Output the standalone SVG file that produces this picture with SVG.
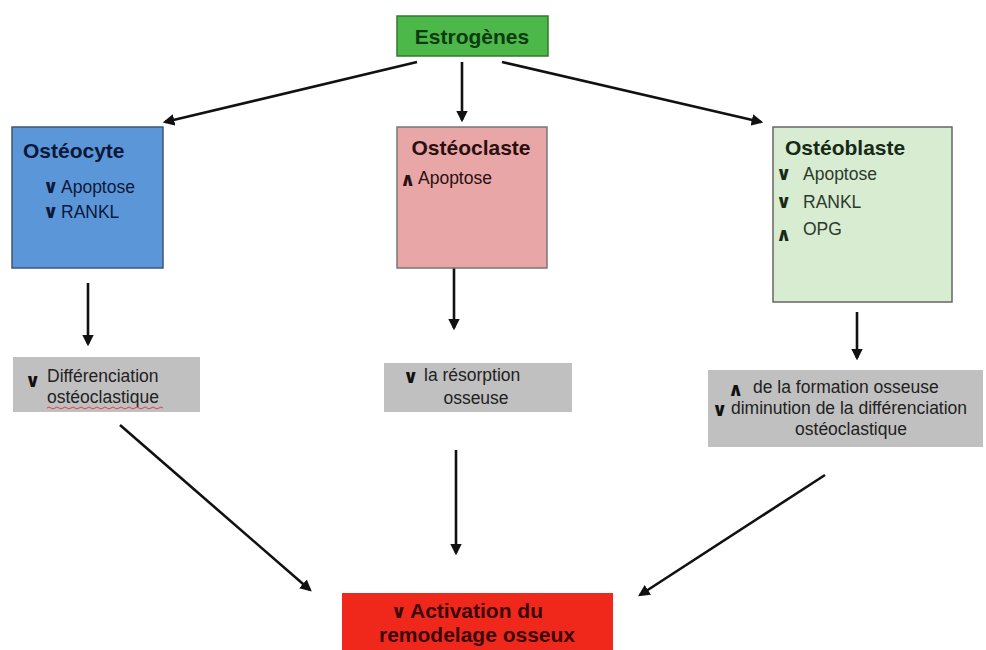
<svg xmlns="http://www.w3.org/2000/svg" width="986" height="650" viewBox="0 0 986 650">
<style>
text{font-family:"Liberation Sans",Arial,sans-serif}
.t{font-weight:bold;font-size:21px}
.s{font-size:17.5px}
.c{font-family:"DejaVu Sans",sans-serif;font-weight:bold;font-size:19px}
.e{stroke:#111;stroke-width:2.6;fill:none;marker-end:url(#ah)}
</style>
<defs>
<marker id="ah" viewBox="0 0 10 10" refX="8" refY="5" markerWidth="4.5" markerHeight="4.5" orient="auto" markerUnits="strokeWidth">
<path d="M0,0 L10,5 L0,10 z" fill="#111"/>
</marker>
</defs>
<rect width="986" height="650" fill="#fff"/>
<g id="connectors">
<line class="e" x1="417" y1="62" x2="165" y2="122"/>
<line class="e" x1="462" y1="62" x2="462" y2="120"/>
<line class="e" x1="502" y1="62" x2="761" y2="122"/>
<line class="e" x1="88" y1="283" x2="88" y2="344"/>
<line class="e" x1="454" y1="268" x2="454" y2="328"/>
<line class="e" x1="857" y1="312" x2="857" y2="358"/>
<line class="e" x1="120" y1="425" x2="310" y2="590"/>
<line class="e" x1="456" y1="450" x2="456" y2="553"/>
<line class="e" x1="825" y1="475" x2="640" y2="595"/>
</g>
<g id="estrogenes">
<rect x="397" y="16" width="151" height="40" fill="#4cb84a" stroke="#2f7a2f" stroke-width="1.5"/>
<text x="472" y="44" text-anchor="middle" class="t" fill="#0e3a10">Estrogènes</text>
</g>
<g id="osteocyte">
<rect x="12" y="127" width="151" height="141" fill="#5b96d9" stroke="#3d5778" stroke-width="1.5"/>
<text x="23" y="158" class="t" fill="#0b1838">Ostéocyte</text>
<text x="43" y="193" class="c" fill="#0b1838">∨</text>
<text x="61" y="193" class="s" fill="#0b1838">Apoptose</text>
<text x="43" y="218" class="c" fill="#0b1838">∨</text>
<text x="61" y="218" class="s" fill="#0b1838">RANKL</text>
</g>
<g id="osteoclaste">
<rect x="397" y="127" width="150" height="141" fill="#e8a6a6" stroke="#777" stroke-width="1.5"/>
<text x="471" y="155" text-anchor="middle" class="t" fill="#2a1012">Ostéoclaste</text>
<text x="400" y="186" class="c" fill="#2a1012">∧</text>
<text x="418" y="184" class="s" fill="#2a1012">Apoptose</text>
</g>
<g id="osteoblaste">
<rect x="773" y="127" width="179" height="175" fill="#d8ecd2" stroke="#666" stroke-width="1.5"/>
<text x="785" y="155" class="t" fill="#162a16">Ostéoblaste</text>
<text x="776" y="180" class="c" fill="#162a16">∨</text>
<text x="803" y="180" class="s" fill="#2c3a2c">Apoptose</text>
<text x="776" y="208" class="c" fill="#162a16">∨</text>
<text x="803" y="208" class="s" fill="#2c3a2c">RANKL</text>
<text x="776" y="241" class="c" fill="#162a16">∧</text>
<text x="803" y="235" class="s" fill="#2c3a2c">OPG</text>
</g>
<g id="diff">
<rect x="13" y="357" width="187" height="55" fill="#c0c0c0"/>
<text x="25" y="387" class="c" fill="#111">∨</text>
<text x="47" y="382" class="s" fill="#222">Différenciation</text>
<text x="47" y="403" class="s" fill="#222">ostéoclastique</text>
<path d="M47,408 q2,-2 4,0 t4,0 t4,0 t4,0 t4,0 t4,0 t4,0 t4,0 t4,0 t4,0 t4,0 t4,0 t4,0 t4,0 t4,0 t4,0 t4,0 t4,0 t4,0 t4,0 t4,0 t4,0 t4,0 t4,0 t4,0 t4,0 t4,0 t4,0 t4,0" fill="none" stroke="#e0404a" stroke-width="1"/>
</g>
<g id="resorption">
<rect x="384" y="363" width="188" height="49" fill="#c0c0c0"/>
<text x="403" y="383" class="c" fill="#111">∨</text>
<text x="424" y="381" class="s" fill="#222">la résorption</text>
<text x="476" y="404" text-anchor="middle" class="s" fill="#222">osseuse</text>
</g>
<g id="formation">
<rect x="708" y="370" width="275" height="77" fill="#c0c0c0"/>
<text x="728" y="396" class="c" fill="#111">∧</text>
<text x="753" y="393" class="s" fill="#222">de la formation osseuse</text>
<text x="712" y="416" class="c" fill="#111">∨</text>
<text x="731" y="414" class="s" fill="#222">diminution de la différenciation</text>
<text x="851" y="435" text-anchor="middle" class="s" fill="#222">ostéoclastique</text>
</g>
<g id="activation">
<rect x="342" y="593" width="271" height="60" fill="#f0281c"/>
<text x="391" y="618" class="c" fill="#3a0808">∨</text>
<text x="410" y="618" class="t" fill="#3a0808">Activation du</text>
<text x="477" y="642" text-anchor="middle" class="t" fill="#3a0808">remodelage osseux</text>
</g>
</svg>
